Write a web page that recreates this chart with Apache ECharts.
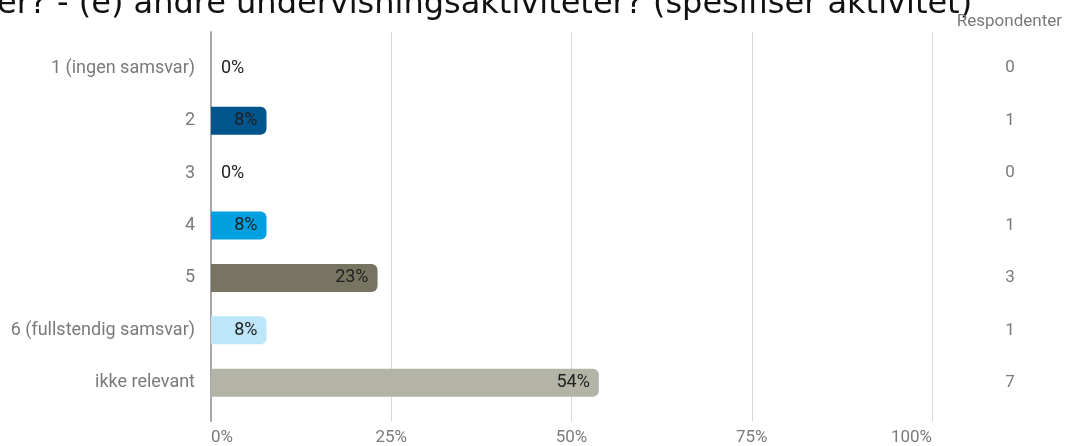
<!DOCTYPE html>
<html>
<head>
<meta charset="utf-8">
<script src="https://cdn.jsdelivr.net/npm/echarts@6/dist/echarts.min.js"></script>
<style>html,body{margin:0;padding:0;background:#fff;}#c{width:1067px;height:446px;}</style>
</head>
<body>
<div id="c"></div>
<script>
const categories = ['1 (ingen samsvar)', '2', '3', '4', '5', '6 (fullstendig samsvar)', 'ikke relevant'];
const percents = [0, 7.7, 0, 7.7, 23.1, 7.7, 53.8];
const respondents = [0, 1, 0, 1, 3, 1, 7];
const colors = ['#00558c', '#00558c', '#00a0e0', '#00a0e0', '#777562', '#bde6f9', '#b3b3a6'];
const xTicks = [0, 25, 50, 75, 100];
const titleText = 'er? - (e) andre undervisningsaktiviteter? (spesifiser aktivitet)';

const chart = echarts.init(document.getElementById('c'));
const gray = '#7a7a7a';
chart.setOption({
  animation: false,
  title: [{
    text: titleText, left: -8, top: -16,
    textStyle: { fontFamily: 'DejaVu Sans', fontWeight: 'normal', fontSize: 32, color: '#111' }
  }, {
    text: 'Respondenter', right: 0, top: 8,
    textStyle: { fontFamily: 'Roboto', fontWeight: 'normal', fontSize: 17, color: gray }
  }],
  grid: [
    { left: 211, right: 135, top: 32, bottom: 25 },
    { left: 211, right: 135, top: 42, bottom: 37 }
  ],
  xAxis: [{
    gridIndex: 0, type: 'value', min: 0, max: 100, interval: 25,
    axisLine: { show: false }, axisTick: { show: false },
    splitLine: { lineStyle: { color: '#d6d6d6', width: 1 } },
    axisLabel: {
      formatter: v => xTicks.includes(v) ? v + '%' : '', color: gray, fontFamily: 'Roboto', fontSize: 17, margin: 8,
      alignMinLabel: 'left', alignMaxLabel: 'right'
    }
  }, {
    gridIndex: 1, type: 'value', min: 0, max: 100, show: false
  }],
  yAxis: [{
    gridIndex: 0, type: 'value', min: 0, max: 1,
    axisLine: { show: true, lineStyle: { color: '#a8a8a8', width: 2 } },
    axisTick: { show: false }, axisLabel: { show: false }, splitLine: { show: false }
  }, {
    gridIndex: 1, type: 'category', data: categories, inverse: true,
    axisLine: { show: false }, axisTick: { show: false },
    axisLabel: { color: gray, fontFamily: 'Roboto', fontSize: 18, margin: 16 }
  }, {
    gridIndex: 1, type: 'category', data: respondents.map(String), inverse: true, position: 'right',
    axisLine: { show: false }, axisTick: { show: false },
    axisLabel: { color: gray, fontFamily: 'Roboto', fontSize: 17, margin: 78, align: 'center' }
  }],
  series: [{
    type: 'bar', xAxisIndex: 1, yAxisIndex: 1, barWidth: 28,
    data: percents.map((v, i) => ({
      value: v,
      itemStyle: { color: colors[i], borderRadius: [0, 6, 6, 0] },
      label: v === 0 ? { position: 'right', distance: 10 } : { position: 'insideRight', distance: 9 }
    })),
    label: {
      show: true, color: '#212121', fontFamily: 'Roboto', fontSize: 18,
      formatter: p => Math.round(p.value) + '%'
    }
  }]
});
</script>
</body>
</html>
